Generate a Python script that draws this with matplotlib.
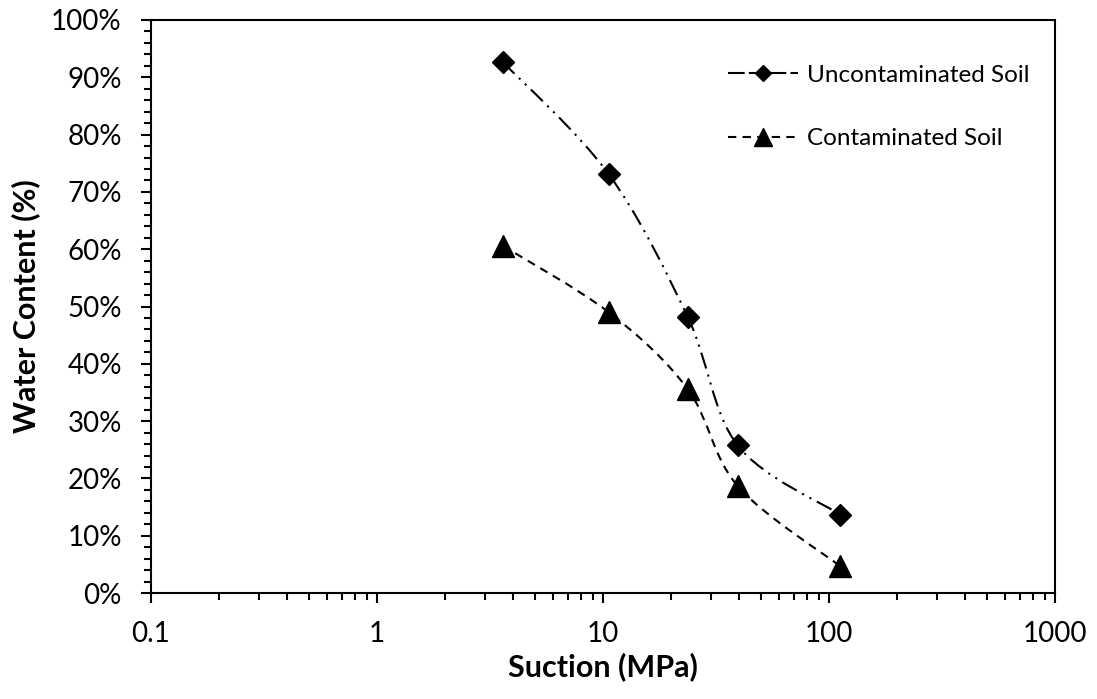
import matplotlib
matplotlib.use("Agg")
import matplotlib.pyplot as plt
import numpy as np
from matplotlib.path import Path
from matplotlib.patches import PathPatch
from matplotlib.lines import Line2D
from matplotlib.ticker import MultipleLocator, FuncFormatter, LogLocator, NullFormatter

plt.rcParams['font.family'] = ['Lato', 'DejaVu Sans']

# suction (MPa) and water content (%)
suction_unc = [3.6, 10.6, 23.7, 39.4, 111.9]
water_unc = [92.7, 73.1, 48.2, 25.8, 13.7]
suction_con = [3.6, 10.6, 23.7, 39.4, 111.9]
water_con = [60.6, 49.0, 35.6, 18.7, 4.7]


def smooth_path(xs, ys):
    # excel-like smoothed line, built in (log x, y) space
    pts = np.column_stack([np.log10(xs), ys])
    n = len(pts)
    verts = [pts[0]]
    codes = [Path.MOVETO]
    for i in range(n - 1):
        p0 = pts[i - 1] if i > 0 else pts[i]
        p1 = pts[i]
        p2 = pts[i + 1]
        p3 = pts[i + 2] if i + 2 < n else pts[i + 1]
        verts += [p1 + (p2 - p0) / 6, p2 - (p3 - p1) / 6, p2]
        codes += [Path.CURVE4] * 3
    verts = np.array(verts)
    verts[:, 0] = 10 ** verts[:, 0]
    return Path(verts, codes)


fig = plt.figure(figsize=(10.97, 6.99), dpi=100)
ax = fig.add_axes([0.1376, 0.1516, 0.8241, 0.8198])

ls_unc = (0, (8, 3, 1, 3, 1, 3))
ls_con = (0, (4, 3))

ax.add_patch(PathPatch(smooth_path(suction_unc, water_unc), fill=False,
                       lw=1.5, ls=ls_unc, ec='black'))
ax.add_patch(PathPatch(smooth_path(suction_con, water_con), fill=False,
                       lw=1.5, ls=ls_con, ec='black'))
ax.plot(suction_unc, water_unc, ls='none', marker='D', ms=11, color='black')
ax.plot(suction_con, water_con, ls='none', marker='^', ms=16, color='black')

ax.set_xscale('log')
ax.set_xlim(0.1, 1000)
ax.set_ylim(0, 100)
ax.yaxis.set_major_locator(MultipleLocator(10))
ax.yaxis.set_minor_locator(MultipleLocator(2))
ax.yaxis.set_major_formatter(FuncFormatter(lambda v, p: f"{v:.0f}%"))
ax.xaxis.set_major_formatter(FuncFormatter(lambda v, p: f"{v:g}"))
ax.xaxis.set_minor_locator(LogLocator(base=10, subs=np.arange(2, 10)))
ax.xaxis.set_minor_formatter(NullFormatter())

ax.tick_params(axis='both', which='major', length=7, width=1.5, labelsize=20, color='black')
ax.tick_params(axis='both', which='minor', length=5, width=1.5)
ax.tick_params(axis='x', which='major', pad=13)
ax.tick_params(axis='y', which='major', pad=14)
for s in ax.spines.values():
    s.set_linewidth(1.5)

ax.set_xlabel('Suction (MPa)', fontsize=22, fontweight='bold', labelpad=4)
ax.set_ylabel('Water Content (%)', fontsize=22, fontweight='bold', labelpad=8)

handles = [
    Line2D([], [], color='black', lw=1.5, ls=(0, (8, 2)), marker='D', ms=8),
    Line2D([], [], color='black', lw=1.5, ls=ls_con, marker='^', ms=13),
]
ax.legend(handles, ['Uncontaminated Soil', 'Contaminated Soil'], loc='upper right',
          bbox_to_anchor=(0.996, 0.96), frameon=False, fontsize=17.5,
          handlelength=2.9, labelspacing=1.75, handletextpad=0.35)

fig.savefig('out.png', dpi=100)
